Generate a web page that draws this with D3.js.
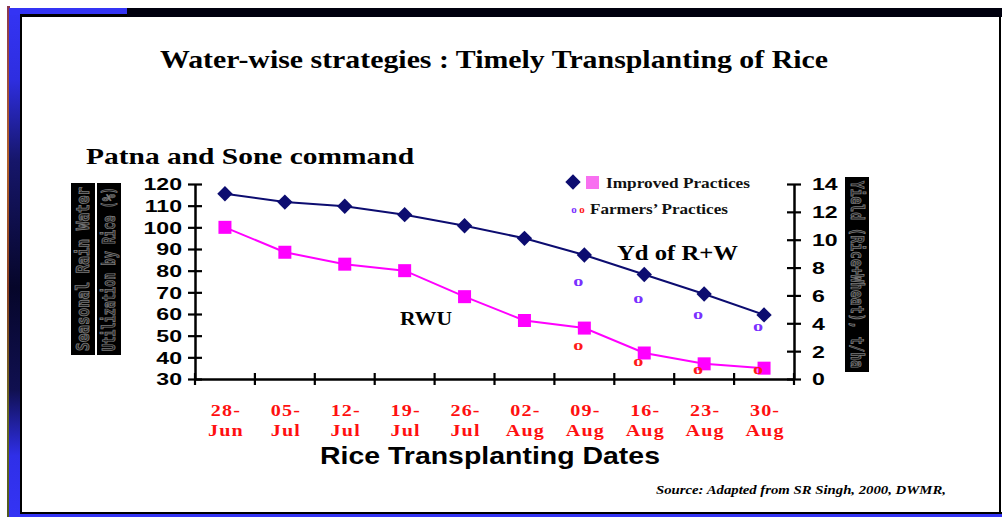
<!DOCTYPE html>
<html>
<head>
<meta charset="utf-8">
<title>Timely Transplanting of Rice</title>
<script src="https://cdn.jsdelivr.net/npm/d3@7"></script>
<style>
  body { margin: 0; padding: 0; background: white; }
  svg { display: block; }
  .serif { font-family: "Liberation Serif", "Times New Roman", serif; font-weight: bold; }
  .sans  { font-family: "Liberation Sans", Arial, sans-serif; font-weight: bold; }
</style>
</head>
<body>
<svg id="chart" width="1002" height="517"></svg>
<script>
//--- Data
var dates = ["28-Jun", "05-Jul", "12-Jul", "19-Jul", "26-Jul", "02-Aug", "09-Aug", "16-Aug", "23-Aug", "30-Aug"];
var yieldImproved = [13.3, 12.7, 12.4, 11.8, 11.0, 10.1, 8.9, 7.5, 6.1, 4.6];   // t/ha, right axis
var rwuImproved = [100, 88.5, 83, 80, 68, 57, 53.5, 42, 37, 35];                // %, left axis
var farmerDates = ["09-Aug", "16-Aug", "23-Aug", "30-Aug"];
var yieldFarmers = [7.0, 5.8, 4.6, 3.8];
var rwuFarmers = [45.4, 38.3, 34.5, 34.5];
var leftTicks = [30, 40, 50, 60, 70, 80, 90, 100, 110, 120];
var rightTicks = [0, 2, 4, 6, 8, 10, 12, 14];

var svg = d3.select("#chart");

//--- Slide frame
var defs = svg.append("defs");
var grad = defs.append("linearGradient").attr("id", "sideBar")
  .attr("x1", 0).attr("y1", 0).attr("x2", 0).attr("y2", 1);
[["0%", "#3434f4"], ["14%", "#2e2ee0"], ["30%", "#16166a"], ["55%", "#06062a"],
 ["75%", "#101050"], ["88%", "#2f2fe8"], ["100%", "#3434f4"]].forEach(function (s) {
  grad.append("stop").attr("offset", s[0]).attr("stop-color", s[1]);
});
var tex = defs.append("linearGradient").attr("id", "texture")
  .attr("x1", 0).attr("y1", 0).attr("x2", 0).attr("y2", 1);
[["0%", "#8a3a50"], ["30%", "#b0602a"], ["55%", "#8a4020"], ["80%", "#6a6a20"], ["100%", "#505a20"]].forEach(function (s) {
  tex.append("stop").attr("offset", s[0]).attr("stop-color", s[1]);
});

svg.append("rect").attr("x", 7).attr("y", 6).attr("width", 3).attr("height", 511).attr("fill", "url(#texture)");
svg.append("rect").attr("x", 9).attr("y", 8).attr("width", 12).attr("height", 509).attr("fill", "url(#sideBar)");
svg.append("rect").attr("x", 9).attr("y", 8).attr("width", 118).attr("height", 7).attr("fill", "#3434f4");
svg.append("rect").attr("x", 127).attr("y", 8).attr("width", 875).attr("height", 9).attr("fill", "#00000e");
svg.append("rect").attr("x", 9).attr("y", 514).attr("width", 993).attr("height", 3).attr("fill", "#3434f4");
svg.append("rect").attr("x", 20).attr("y", 14).attr("width", 2).attr("height", 500).attr("fill", "black");
svg.append("rect").attr("x", 20).attr("y", 14).attr("width", 107).attr("height", 3).attr("fill", "black");
svg.append("rect").attr("x", 20).attr("y", 512).attr("width", 982).attr("height", 2).attr("fill", "black");
svg.append("rect").attr("x", 999).attr("y", 17).attr("width", 2).attr("height", 497).attr("fill", "black");

//--- helper: serif label stretched to the width seen in the picture
function serifText(x0, y0, size, width, str, colour) {
  return svg.append("text").attr("class", "serif")
    .attr("x", x0).attr("y", y0).attr("font-size", size)
    .attr("fill", colour || "#111")
    .attr("textLength", width).attr("lengthAdjust", "spacingAndGlyphs")
    .text(str);
}

//--- Titles
serifText(160, 68, 25, 668, "Water-wise strategies : Timely Transplanting of Rice", "black");
serifText(86, 164, 23, 328, "Patna and Sone command", "black");

//--- Scales
var x = d3.scaleBand().domain(dates).range([195, 794]).padding(0);
var yL = d3.scaleLinear().domain([30, 120]).range([379, 184]);
var yR = d3.scaleLinear().domain([0, 14]).range([379, 184]);
var cx = function (d) { return x(d) + x.bandwidth() / 2; };

//--- Axes
var gL = svg.append("g").attr("transform", "translate(195,0)")
  .call(d3.axisLeft(yL).tickValues(leftTicks).tickSizeOuter(0).tickSizeInner(7).tickPadding(12));
var gR = svg.append("g").attr("transform", "translate(794,0)")
  .call(d3.axisRight(yR).tickValues(rightTicks).tickSizeOuter(0).tickSizeInner(7).tickPadding(12));
var gX = svg.append("g").attr("transform", "translate(0,379)")
  .call(d3.axisBottom(x).tickSizeOuter(0).tickSizeInner(6).tickFormat(""));

[gL, gR, gX].forEach(function (g) {
  g.select(".domain").attr("stroke", "black").attr("stroke-width", 2.5);
  g.selectAll(".tick line").attr("stroke", "black").attr("stroke-width", 2.2);
});
gL.selectAll(".tick line").attr("x1", -7).attr("x2", 7);
gR.selectAll(".tick line").attr("x1", -7).attr("x2", 7);

//--- x ticks sit on the band boundaries
var bounds = dates.map(function (d) { return x(d); }).concat([x(dates[dates.length - 1]) + x.bandwidth()]);
gX.selectAll(".tick").remove();
gX.selectAll("line.bound").data(bounds).enter().append("line")
  .attr("class", "bound")
  .attr("x1", function (d) { return d; }).attr("x2", function (d) { return d; })
  .attr("y1", -6).attr("y2", 6).attr("stroke", "black").attr("stroke-width", 2.2);

[gL, gR].forEach(function (g) {
  g.selectAll(".tick text")
    .attr("class", "sans").attr("font-size", 16.5).attr("fill", "black")
    .attr("dy", "0.36em");
});
gL.selectAll(".tick text").attr("x", -13 / 1.4).attr("transform", "scale(1.4,1)");
gR.selectAll(".tick text").attr("x", 18 / 1.4).attr("transform", "scale(1.4,1)");

//--- x tick labels (two lines, red), glyphs slightly stretched
var xl = svg.append("g");
xl.selectAll("text").data(dates).enter().append("text")
  .attr("class", "serif").attr("font-size", 17.5).attr("fill", "#ff1010")
  .attr("text-anchor", "middle").attr("letter-spacing", 1)
  .attr("transform", function (d) { return "translate(" + (cx(d) + 1) + ",0) scale(1.15,1)"; })
  .each(function (d) {
    var parts = d.split("-");
    var t = d3.select(this);
    t.append("tspan").attr("x", 0).attr("y", 416).text(parts[0] + "-");
    t.append("tspan").attr("x", 0).attr("y", 436).text(parts[1]);
  });

svg.append("text").attr("class", "sans").attr("x", 320).attr("y", 464)
  .attr("font-size", 24).attr("textLength", 340).attr("lengthAdjust", "spacingAndGlyphs")
  .text("Rice Transplanting Dates");

//--- Axis title boxes
function axisBox(bx, by, bw, bh, label, angle) {
  svg.append("rect").attr("x", bx).attr("y", by).attr("width", bw).attr("height", bh).attr("fill", "black");
  svg.append("text")
    .attr("transform", "translate(" + (bx + bw / 2) + "," + (by + bh / 2) + ") rotate(" + angle + ")")
    .attr("text-anchor", "middle").attr("dy", "0.35em")
    .attr("font-family", "'DejaVu Sans Mono', monospace").attr("font-weight", "bold")
    .attr("font-size", 17).attr("fill", "#1c1c1c").attr("stroke", "#7a7a7a").attr("stroke-width", 0.9)
    .attr("textLength", bh - 8).attr("lengthAdjust", "spacingAndGlyphs")
    .text(label);
}
axisBox(71, 183, 24, 172, "Seasonal Rain Water", -90);
axisBox(97, 183, 24, 172, "Utilization by Rice (%)", -90);
axisBox(845, 177, 24, 195, "Yield (Rice+Wheat), t/ha", 90);

//--- Lines
var lineR = d3.line().x(function (d, i) { return cx(dates[i]); }).y(function (d) { return yL(d); });
var lineY = d3.line().x(function (d, i) { return cx(dates[i]); }).y(function (d) { return yR(d); });

svg.append("path").datum(rwuImproved).attr("d", lineR)
  .attr("fill", "none").attr("stroke", "#ff00ff").attr("stroke-width", 2);
svg.append("path").datum(yieldImproved).attr("d", lineY)
  .attr("fill", "none").attr("stroke", "#0c0c70").attr("stroke-width", 2);

svg.selectAll("rect.rwu").data(rwuImproved).enter().append("rect")
  .attr("class", "rwu")
  .attr("x", function (d, i) { return cx(dates[i]) - 6.5; })
  .attr("y", function (d) { return yL(d) - 6.5; })
  .attr("width", 13).attr("height", 13).attr("fill", "#ff00ff");

var diamond = d3.symbol().type(d3.symbolDiamond2).size(150);
svg.selectAll("path.yd").data(yieldImproved).enter().append("path")
  .attr("class", "yd")
  .attr("d", diamond)
  .attr("transform", function (d, i) { return "translate(" + cx(dates[i]) + "," + yR(d) + ")"; })
  .attr("fill", "#0c0c70");

//--- Farmers' practices markers ("o" glyphs, drawn wide)
function oMark(sel, cls, colour, yScale, vals) {
  sel.selectAll("text." + cls).data(vals).enter().append("text")
    .attr("class", "serif " + cls).attr("font-size", 15).attr("fill", colour)
    .attr("text-anchor", "middle").attr("dy", "0.3em")
    .attr("transform", function (d, i) {
      return "translate(" + (cx(farmerDates[i]) - 6) + "," + yScale(d) + ") scale(1.35,1)";
    })
    .text("o");
}
oMark(svg, "fy", "#7a30ff", yR, yieldFarmers);
oMark(svg, "fr", "#ff1a1a", yL, rwuFarmers);

//--- Legend
svg.append("path").attr("d", diamond).attr("transform", "translate(573,182)").attr("fill", "#0c0c70");
svg.append("rect").attr("x", 586).attr("y", 176).attr("width", 13).attr("height", 13).attr("fill", "#f870f0");
serifText(606, 188, 15, 144, "Improved Practices");
svg.append("text").attr("class", "serif").attr("x", 574).attr("y", 213).attr("font-size", 11)
  .attr("fill", "#7a30ff").attr("text-anchor", "middle").text("o");
svg.append("text").attr("class", "serif").attr("x", 582).attr("y", 213).attr("font-size", 11)
  .attr("fill", "#ff1a1a").attr("text-anchor", "middle").text("o");
serifText(590, 214, 15, 138, "Farmers’ Practices");

//--- In-chart labels
serifText(617, 260, 20, 121, "Yd of R+W", "black");
serifText(400, 325, 18, 52, "RWU", "black");

//--- Source
svg.append("text").attr("x", 656).attr("y", 494)
  .attr("font-family", "'Liberation Serif', 'Times New Roman', serif")
  .attr("font-weight", "bold").attr("font-style", "italic").attr("font-size", 12.5)
  .attr("textLength", 290).attr("lengthAdjust", "spacingAndGlyphs")
  .text("Source: Adapted from SR Singh, 2000, DWMR,");
</script>
</body>
</html>
